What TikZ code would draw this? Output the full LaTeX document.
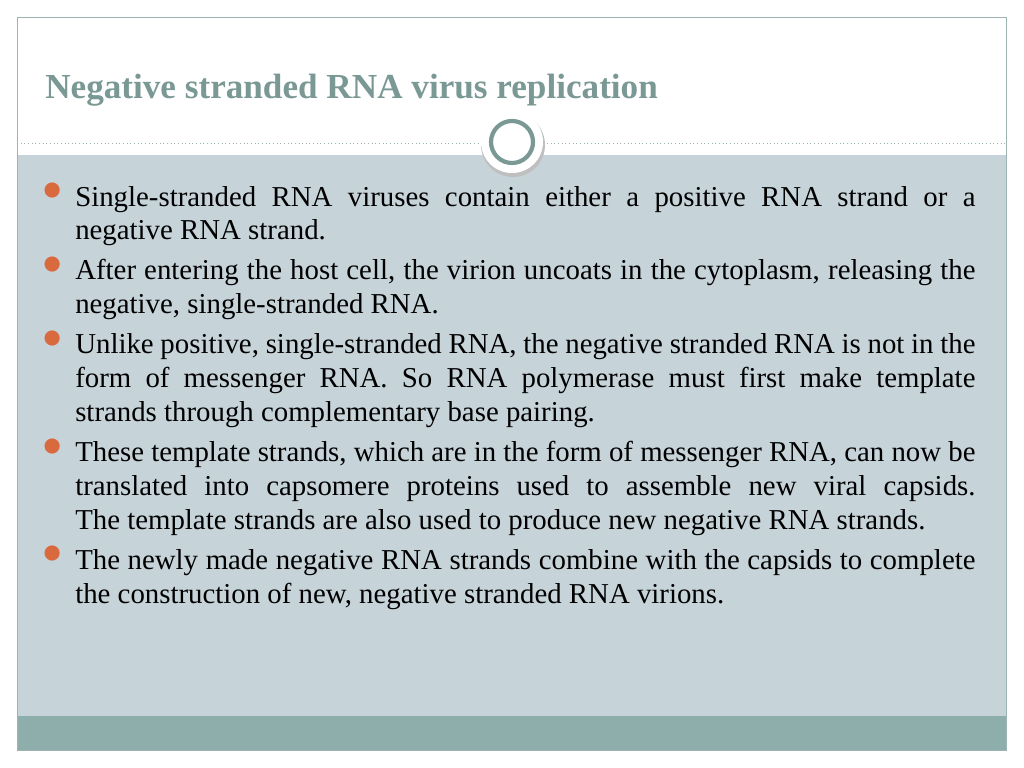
\documentclass[tikz,border=0pt]{standalone}
\usepackage{fontspec}
\setmainfont{Liberation Serif}
\usepackage{graphicx}
\usetikzlibrary{positioning}
\definecolor{slteal}{HTML}{7A9894}
\definecolor{slbody}{HTML}{C6D3D9}
\definecolor{slband}{HTML}{8EAEAC}
\definecolor{slframe}{HTML}{9DB3B1}
\definecolor{slbullet}{HTML}{D96A3E}
\newcommand{\slbul}{\makebox[0pt][r]{\raisebox{-0.2em}{\textcolor{slbullet}{\scalebox{2.2}{\textbullet}}}\hspace{8pt}}}
\begin{document}
\begin{tikzpicture}[x=0.025cm,y=-0.025cm, every node/.style={inner sep=0pt}]
  % ---- Canvas ----
  \useasboundingbox (0,0) rectangle (1024,768);
  \fill[white] (0,0) rectangle (1024,768);

  % ---- Body and footer band ----
  \fill[slbody] (17,155) rectangle (1006,716);
  \fill[slband] (17,716) rectangle (1006,750);
  \draw[slframe, line width=0.6pt] (17,17) rectangle (1006,750);
  \draw[slframe, dotted, line width=0.6pt] (17,143) -- (1006,143);

  % ---- Title ----
  \node[anchor=west, text=slteal, font=\fontsize{25}{30}\selectfont\bfseries]
    (title) at (45,90) {Negative stranded RNA virus replication};

  % ---- Ornament circle ----
  \fill[black!25] (513,145) circle (32);
  \fill[white] (512,142) circle (31);
  \draw[slteal, line width=3pt] (512,142) circle (21);

  % ---- Bullets ----
  \node[anchor=north west, text width=22.5cm, align=justify,
        font=\fontsize{20.5}{24.1}\selectfont] (bullets) at (75,183) {%
    \setlength{\parskip}{4.3pt}\hyphenpenalty=10000\exhyphenpenalty=10000%
    \slbul Single-stranded RNA viruses contain either a positive RNA strand or a\linebreak negative RNA strand.\par
    \slbul After entering the host cell, the virion uncoats in the cytoplasm, releasing the\linebreak negative, single-stranded RNA.\par
    \slbul Unlike positive, single-stranded RNA, the negative stranded RNA is not in the\linebreak form of messenger RNA. So RNA polymerase must first make template\linebreak strands through complementary base pairing.\par
    \slbul These template strands, which are in the form of messenger RNA, can now be\linebreak translated into capsomere proteins used to assemble new viral capsids.\linebreak The template strands are also used to produce new negative RNA strands.\par
    \slbul The newly made negative RNA strands combine with the capsids to complete\linebreak the construction of new, negative stranded RNA virions.\par};

\end{tikzpicture}
\end{document}
